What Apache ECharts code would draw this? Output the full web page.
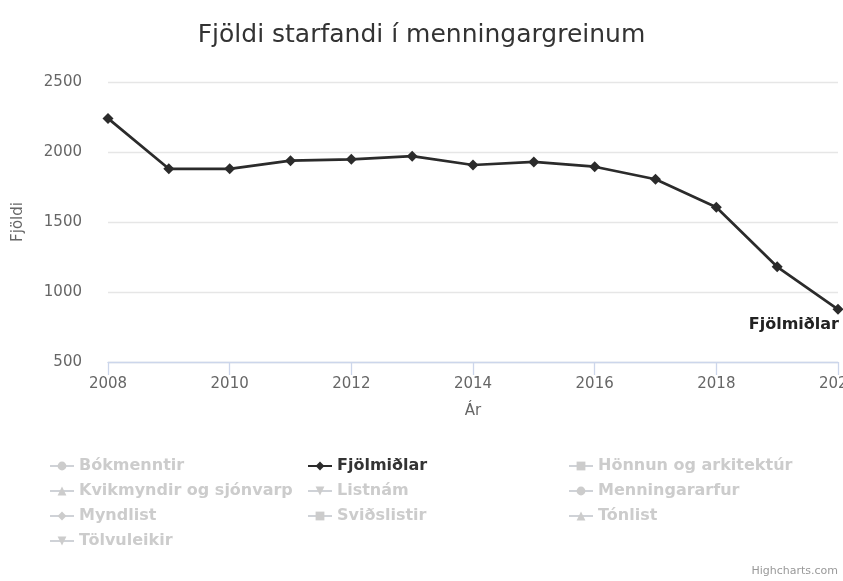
<!DOCTYPE html>
<html><head><meta charset="utf-8">
<script src="https://cdn.jsdelivr.net/npm/echarts@6/dist/echarts.min.js"></script>
<style>html,body{margin:0;padding:0;background:#fff}#c{width:843px;height:581px}</style>
</head><body><div id="c"></div>
<script>
const years = [2008,2009,2010,2011,2012,2013,2014,2015,2016,2017,2018,2019,2020];
const fjolmidlar = [2240,1880,1880,1938,1948,1970,1907,1929,1895,1805,1605,1180,876];
const seriesNames = ['Bókmenntir','Fjölmiðlar','Hönnun og arkitektúr','Kvikmyndir og sjónvarp','Listnám','Menningararfur','Myndlist','Sviðslistir','Tónlist','Tölvuleikir'];
const seriesSymbols = ['circle','diamond','rect','triangle','path://M0,0 L10,0 L5,10 Z','circle','diamond','rect','triangle','path://M0,0 L10,0 L5,10 Z'];
const visibleSeries = ['Fjölmiðlar'];
const xTicks = {min:2008,max:2020,interval:2};
const yTicks = {min:500,max:2500,interval:500};

const font = 'DejaVu Sans';
const chart = echarts.init(document.getElementById('c'));
const selected = {};
seriesNames.forEach(n => selected[n] = visibleSeries.includes(n));

const series = seriesNames.map((name,i) => {
  const isMain = name === 'Fjölmiðlar';
  const values = isMain ? fjolmidlar : [];
  return {
    name, type:'line', symbol: seriesSymbols[i], symbolSize: 11,
    lineStyle:{width:2.7,color:'#2b2b2b'}, itemStyle:{color:'#2b2b2b'},
    data: values.map((v,j) => {
      const d = {value:[years[j], v]};
      if (isMain && j === values.length-1) {
        d.label = {show:true, position:'bottom', align:'right', offset:[1,-3],
          formatter: () => name, fontFamily:font, fontWeight:'bold', fontSize:16, color:'#222',
          textBorderColor:'#fff', textBorderWidth:2};
      }
      return d;
    }),
    animation:false
  };
});

const legendCol = (names, left) => ({
  orient:'vertical', left, top:453, itemGap:9, itemWidth:24, itemHeight:11,
  data: names, selected, selectedMode:true,
  textStyle:{fontFamily:font, fontSize:16, fontWeight:'bold', color:'#333'},
  inactiveColor:'#cccccc', inactiveBorderColor:'#cccccc'
});

chart.setOption({
  animation:false,
  title:{text:'Fjöldi starfandi í menningargreinum', left:'center', top:18,
    textStyle:{fontFamily:font, fontSize:25, fontWeight:'normal', color:'#333'}},
  grid:{left:108, right:5, top:82, bottom:219, outerBoundsMode:'none'},
  xAxis:{type:'value', min:xTicks.min, max:xTicks.max, interval:xTicks.interval,
    name:'Ár', nameLocation:'middle', nameGap:42,
    nameTextStyle:{fontFamily:font, fontSize:15, color:'#666'},
    axisLine:{lineStyle:{color:'#ccd6eb', width:1.3}}, axisTick:{show:true, length:13, lineStyle:{color:'#ccd6eb', width:1.3}},
    splitLine:{show:false},
    axisLabel:{fontFamily:font, fontSize:15, color:'#666', margin:15, formatter:v=>String(v)}},
  yAxis:{type:'value', min:yTicks.min, max:yTicks.max, interval:yTicks.interval,
    name:'Fjöldi', nameLocation:'middle', nameGap:82, nameRotate:90,
    nameTextStyle:{fontFamily:font, fontSize:15, color:'#666'},
    axisLine:{show:false}, axisTick:{show:false},
    splitLine:{lineStyle:{color:'#e6e6e6', width:1.3}},
    axisLabel:{fontFamily:font, fontSize:15, color:'#666', margin:26, formatter:v=>String(v)}},
  legend:[
    legendCol(['Bókmenntir','Kvikmyndir og sjónvarp','Myndlist','Tölvuleikir'], 44),
    legendCol(['Fjölmiðlar','Listnám','Sviðslistir'], 302),
    legendCol(['Hönnun og arkitektúr','Menningararfur','Tónlist'], 563)
  ],
  graphic:[{type:'text', right:5, bottom:4, style:{text:'Highcharts.com', fontFamily:font, fontSize:11, fill:'#999'}}],
  series
});
</script></body></html>
